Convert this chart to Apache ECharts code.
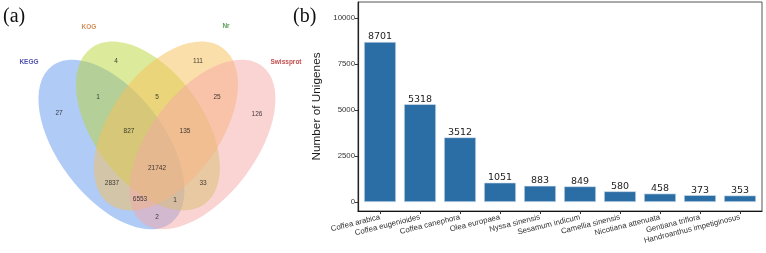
<!DOCTYPE html>
<html>
<head>
<meta charset="utf-8">
<script src="https://cdn.jsdelivr.net/npm/echarts@6/dist/echarts.min.js"></script>
<style>
html,body{margin:0;padding:0;background:#fff;}
#chart{width:766px;height:253px;}
</style>
</head>
<body>
<div id="chart"></div>
<script>
// ---------- Panel (a): Venn diagram data ----------
const vennSets = ['KEGG', 'KOG', 'Nr', 'Swissprot'];
// ellipse layout in Venn layout units: [cx, cy, semiMajor, semiMinor, angle(deg, clockwise)]
const vennEllipses = [
  [111.5, 144.5, 98.5, 53, 52.8],
  [148, 126, 96.5, 54.8, 54],
  [166, 126, 96.5, 54.8, 126],
  [202.5, 144.5, 98.5, 53, 127.2]
];
const vennSetLabelPos = [[29, 62], [89, 27], [226, 26], [286, 62]];
const vennCounts = [27, 4, 111, 126, 1, 5, 25, 827, 135, 21742, 2837, 33, 6553, 1, 2];
const vennCountPos = [[59, 113], [116, 61], [198, 61], [257, 114], [98, 97], [157, 97], [217, 97],
  [129, 131], [185, 131], [157, 168], [112, 183], [203, 183], [140, 199], [175, 200], [157, 217]];

// ---------- Panel (b): bar chart data ----------
const species = ['Coffea arabica', 'Coffea eugenioides', 'Coffea canephora', 'Olea europaea',
  'Nyssa sinensis', 'Sesamum indicum', 'Camellia sinensis', 'Nicotiana attenuata',
  'Gentiana triflora', 'Handroanthus impetiginosus'];
const unigenes = [8701, 5318, 3512, 1051, 883, 849, 580, 458, 373, 353];
const yTicks = [0, 2500, 5000, 7500, 10000];

// ---------- styles ----------
const vennFill = ['#5f98ee', '#b9d63a', '#f8c057', '#f6a8a8'];
const vennLabelColor = ['#1f1f9a', '#c8702a', '#2a8a2a', '#b02020'];
const barColor = '#2b6ea5';

const chart = echarts.init(document.getElementById('chart'), null, {renderer: 'canvas'});

const option = {
  animation: false,
  backgroundColor: '#fff',
  title: [
    {text: '(a)', left: 3, top: 7, padding: 0, textStyle: {fontFamily: 'Liberation Serif', fontSize: 20, fontWeight: 'normal', color: '#111'}},
    {text: '(b)', left: 293, top: 7, padding: 0, textStyle: {fontFamily: 'Liberation Serif', fontSize: 20, fontWeight: 'normal', color: '#111'}}
  ],
  grid: [
    {left: 0, top: 0, width: 320, height: 253, show: false},
    {left: 358, top: 2, width: 404, height: 209, show: true, borderColor: '#555', borderWidth: 1, backgroundColor: 'transparent'}
  ],
  xAxis: [
    {gridIndex: 0, type: 'value', min: 0, max: 320, show: false},
    {gridIndex: 1, type: 'value', min: -0.55, max: 9.55,
      splitLine: {show: false},
      axisLine: {show: true, onZero: false, lineStyle: {color: '#111', width: 1.2}},
      axisTick: {show: true, customValues: species.map((s, i) => i), length: 3, lineStyle: {color: '#333'}},
      axisLabel: {customValues: species.map((s, i) => i), formatter: v => species[Math.round(v)] || '',
        rotate: 14, fontSize: 7.8, color: '#333', margin: 6, fontFamily: 'Liberation Sans'}
    }
  ],
  yAxis: [
    {gridIndex: 0, type: 'value', min: 0, max: 253, inverse: true, show: false},
    {gridIndex: 1, type: 'value', min: -489, max: 10870,
      splitLine: {show: false},
      axisLine: {show: true, onZero: false, lineStyle: {color: '#222', width: 1.2}},
      axisTick: {show: true, customValues: yTicks, length: 3, lineStyle: {color: '#333'}},
      axisLabel: {customValues: yTicks, formatter: v => String(v), fontSize: 7.8, color: '#333', margin: 3, fontFamily: 'Liberation Sans'},
      name: 'Number of Unigenes', nameLocation: 'middle', nameGap: 26,
      nameTextStyle: {fontSize: 11.8, color: '#1a1a1a', fontFamily: 'Liberation Sans'}
    }
  ],
  series: [
    {
      type: 'custom', xAxisIndex: 0, yAxisIndex: 0, silent: true,
      data: vennEllipses.map((e, i) => [e[0], e[1], i]),
      renderItem: function (params, api) {
        const e = vennEllipses[params.dataIndex];
        const c = api.coord([e[0], e[1]]);
        const s = api.size([e[2], e[3]]);
        return {
          type: 'ellipse', x: c[0], y: c[1], rotation: -e[4] * Math.PI / 180,
          shape: {cx: 0, cy: 0, rx: Math.abs(s[0]), ry: Math.abs(s[1])},
          style: {fill: vennFill[params.dataIndex], opacity: 0.5}
        };
      }
    },
    {
      type: 'scatter', xAxisIndex: 0, yAxisIndex: 0, symbolSize: 0, silent: true,
      data: vennCountPos.map((p, i) => [p[0], p[1], vennCounts[i]]),
      label: {show: true, position: 'inside', formatter: p => String(p.value[2]),
        fontSize: 6.5, color: '#111', fontFamily: 'Liberation Sans'}
    },
    {
      type: 'scatter', xAxisIndex: 0, yAxisIndex: 0, symbolSize: 0, silent: true,
      data: vennSetLabelPos.map((p, i) => ({value: [p[0], p[1]], name: vennSets[i],
        label: {color: vennLabelColor[i]}})),
      label: {show: true, position: 'inside', formatter: p => p.name,
        fontSize: 6.5, fontWeight: 'bold', fontFamily: 'Liberation Sans'}
    },
    {
      type: 'bar', xAxisIndex: 1, yAxisIndex: 1,
      data: unigenes.map((v, i) => [i, v]),
      barWidth: 32,
      itemStyle: {color: barColor, borderColor: '#dfe8f1', borderWidth: 0.6},
      label: {show: true, position: 'top', distance: 0, fontSize: 9.5, color: '#222',
        fontFamily: 'DejaVu Sans', formatter: p => String(p.value[1])}
    }
  ]
};
chart.setOption(option);
</script>
</body>
</html>
